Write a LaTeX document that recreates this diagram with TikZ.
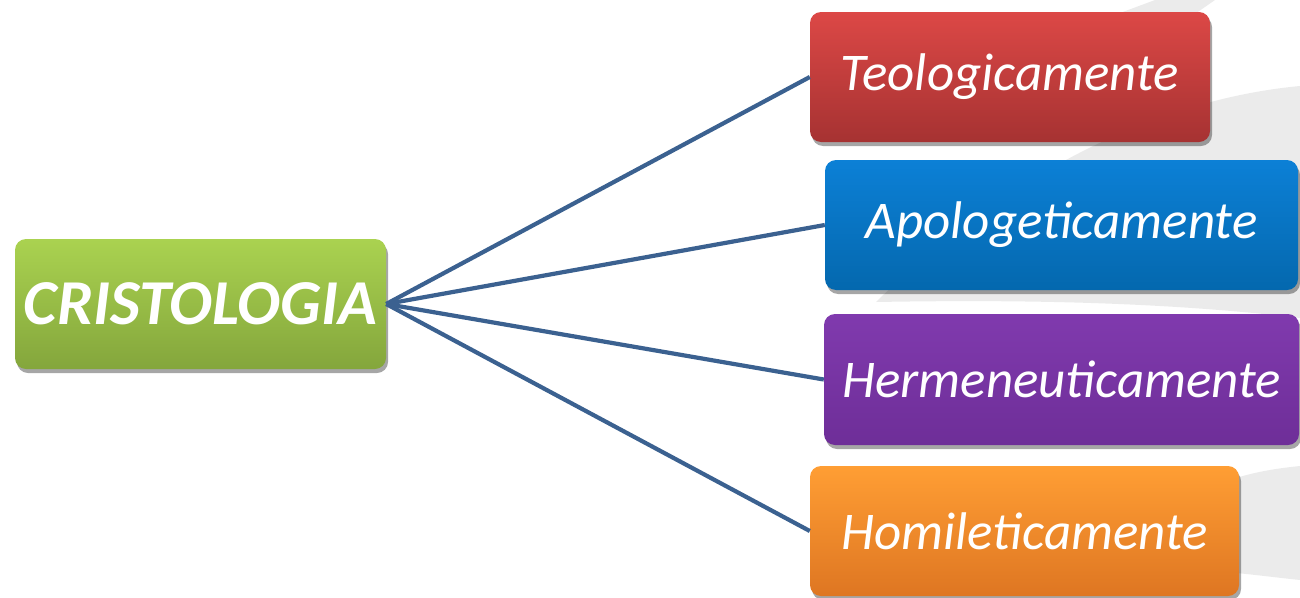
\documentclass[tikz,border=0pt]{standalone}
\usepackage{fontspec}
\setmainfont{Carlito}
\usetikzlibrary{shadows}
\definecolor{linkc}{HTML}{3B6190}
\definecolor{swoosh}{HTML}{EBEBEB}
\tikzset{
  box/.style={rectangle, rounded corners=11pt, inner sep=0pt, text=white,
    font=\fontsize{53}{63}\selectfont\itshape,
    drop shadow={shadow xshift=2pt, shadow yshift=-4pt, opacity=0.35, fill=black}},
  link/.style={draw=linkc, line width=4.2pt}
}
\begin{document}
\begin{tikzpicture}[x=1pt,y=-1pt]
\useasboundingbox (0,0) rectangle (1300,597);
% background swooshes
\fill[swoosh] (1300,86) .. controls (1150,100) and (1000,180) .. (876,302)
  .. controls (990,300) and (1150,300) .. (1300,318) -- cycle;
\fill[swoosh] (1225,482) .. controls (1250,472) and (1280,468) .. (1300,466)
  -- (1300,580) .. controls (1280,578) and (1250,574) .. (1225,572) -- cycle;
\fill[swoosh] (1112,16) -- (1155,0) -- (1215,0) -- (1192,16) -- cycle;
% nodes
\node[box, minimum width=371pt, minimum height=130pt,
  top color={rgb,255:red,170;green,210;blue,80}, bottom color={rgb,255:red,132;green,166;blue,60},
  font=\fontsize{64}{74}\selectfont\bfseries\itshape] (c) at (200.5,304) {CRISTOLOGIA};
\node[box, minimum width=400pt, minimum height=130pt,
  top color={rgb,255:red,220;green,72;blue,70}, bottom color={rgb,255:red,166;green,50;blue,50}] (t) at (1010,77) {Teologicamente};
\node[box, minimum width=473pt, minimum height=130pt,
  top color={rgb,255:red,12;green,128;blue,214}, bottom color={rgb,255:red,4;green,104;blue,174}] (a) at (1061.5,225) {Apologeticamente};
\node[box, minimum width=475pt, minimum height=131pt,
  top color={rgb,255:red,128;green,58;blue,174}, bottom color={rgb,255:red,110;green,46;blue,152}] (h) at (1061.5,379.5) {Hermeneuticamente};
\node[box, minimum width=429pt, minimum height=130pt,
  top color={rgb,255:red,255;green,158;blue,52}, bottom color={rgb,255:red,222;green,118;blue,34}] (o) at (1024.5,531) {Homileticamente};
% connectors
\draw[link] (c.east) -- (t.west);
\draw[link] (c.east) -- (a.west);
\draw[link] (c.east) -- (h.west);
\draw[link] (c.east) -- (o.west);
\end{tikzpicture}
\end{document}
